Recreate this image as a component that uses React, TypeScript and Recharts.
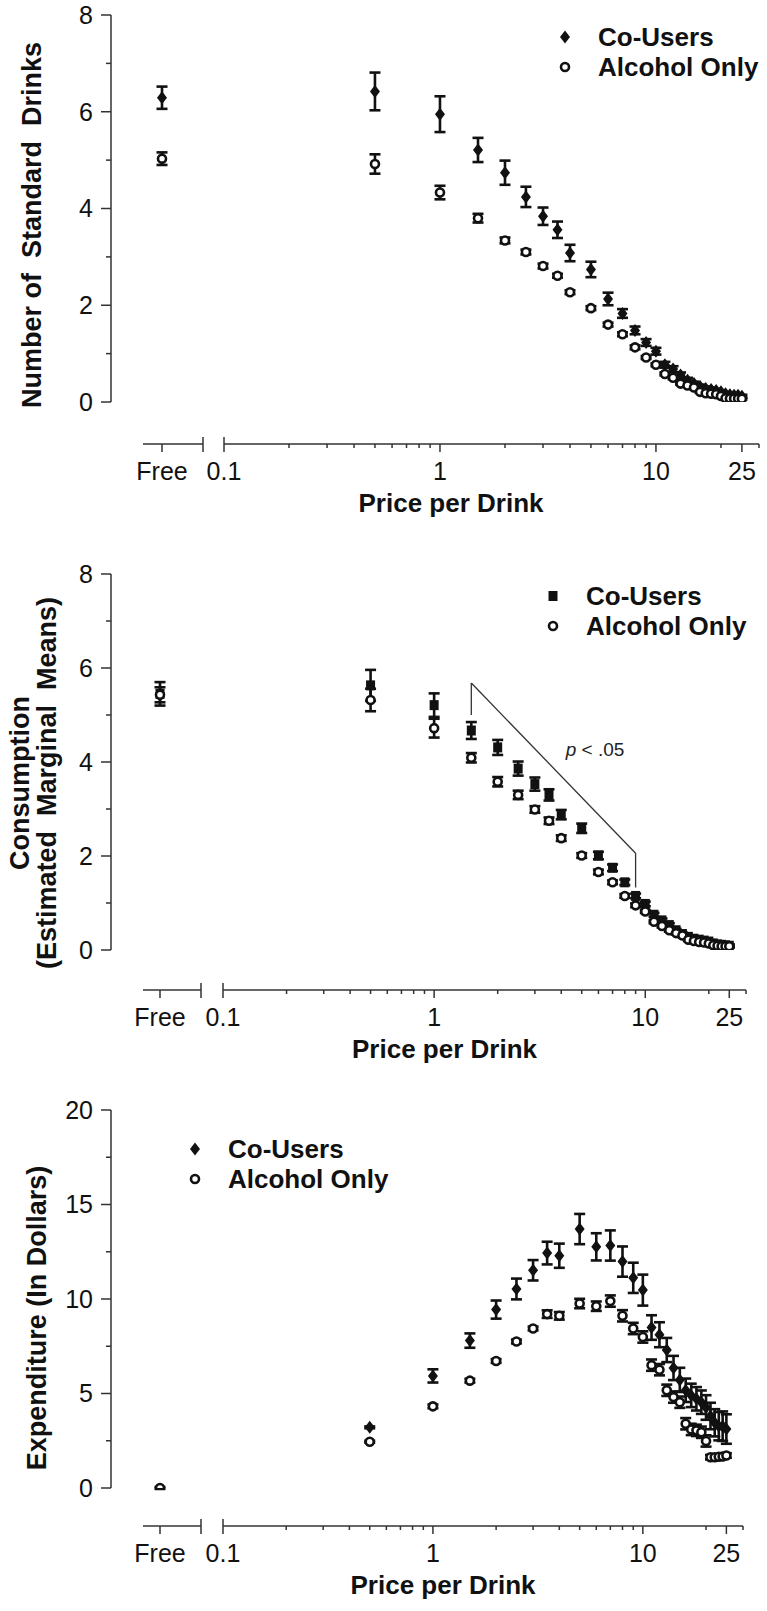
import { ScatterChart, Scatter, XAxis, YAxis, ErrorBar, ReferenceLine, ReferenceDot, Legend } from 'recharts';

const FONT = '"Liberation Sans", Arial, Helvetica, sans-serif';
const INK = '#111';
const AXIS = '#333';
const W = 767;

// prices offered in the purchase task; 0 is the "Free" trial
const PRICES = [0, 0.5, 1, 1.5, 2, 2.5, 3, 3.5, 4, 5, 6, 7, 8, 9, 10, 11, 12, 13, 14, 15, 16, 17, 18, 19, 20, 21, 22, 23, 24, 25];
const SERIES = ['Co-Users', 'Alcohol Only'];
const LOG_TICKS = [0.1, 0.2, 0.3, 0.4, 0.5, 0.6, 0.7, 0.8, 0.9, 1, 2, 3, 4, 5, 6, 7, 8, 9, 10, 20, 25, 30];
const LOG_LABELS = [0.1, 1, 10, 25];

// top: number of standard drinks
const DRINKS_CO = [6.29, 6.42, 5.95, 5.21, 4.74, 4.24, 3.84, 3.56, 3.08, 2.74, 2.13, 1.83, 1.48, 1.23, 1.05, 0.77, 0.68, 0.56, 0.45, 0.38, 0.32, 0.28, 0.26, 0.24, 0.21, 0.17, 0.15, 0.14, 0.14, 0.12];
const DRINKS_CO_SE = [0.23, 0.39, 0.37, 0.25, 0.25, 0.21, 0.18, 0.17, 0.17, 0.16, 0.13, 0.09, 0.08, 0.07, 0.07, 0.06, 0.06, 0.05, 0.05, 0.04, 0.04, 0.04, 0.04, 0.03, 0.03, 0.03, 0.03, 0.03, 0.03, 0.03];
const DRINKS_AO = [5.03, 4.92, 4.33, 3.8, 3.34, 3.1, 2.81, 2.61, 2.27, 1.94, 1.6, 1.4, 1.13, 0.92, 0.77, 0.58, 0.5, 0.38, 0.34, 0.3, 0.21, 0.18, 0.17, 0.16, 0.125, 0.077, 0.074, 0.072, 0.07, 0.069];
const DRINKS_AO_SE = [0.13, 0.2, 0.14, 0.09, 0.06, 0.05, 0.05, 0.04, 0.04, 0.04, 0.04, 0.04, 0.04, 0.03, 0.03, 0.03, 0.03, 0.02, 0.02, 0.02, 0.02, 0.02, 0.02, 0.02, 0.02, 0.02, 0.02, 0.02, 0.02, 0.02];

// middle: estimated marginal means
const CONS_CO = [5.45, 5.63, 5.21, 4.67, 4.31, 3.86, 3.53, 3.3, 2.88, 2.59, 2.01, 1.75, 1.44, 1.15, 0.98, 0.75, 0.63, 0.53, 0.42, 0.34, 0.28, 0.24, 0.22, 0.2, 0.18, 0.14, 0.12, 0.11, 0.1, 0.09];
const CONS_CO_SE = [0.25, 0.33, 0.25, 0.18, 0.16, 0.15, 0.14, 0.12, 0.1, 0.1, 0.08, 0.07, 0.06, 0.05, 0.05, 0.04, 0.04, 0.04, 0.03, 0.03, 0.03, 0.03, 0.03, 0.03, 0.03, 0.03, 0.03, 0.03, 0.03, 0.03];
const CONS_AO = [5.43, 5.32, 4.72, 4.09, 3.58, 3.3, 2.99, 2.75, 2.38, 2.01, 1.66, 1.44, 1.15, 0.95, 0.82, 0.6, 0.51, 0.42, 0.36, 0.31, 0.22, 0.19, 0.17, 0.16, 0.14, 0.1, 0.09, 0.08, 0.08, 0.08];
const CONS_AO_SE = [0.16, 0.24, 0.2, 0.1, 0.1, 0.09, 0.07, 0.07, 0.06, 0.05, 0.05, 0.04, 0.04, 0.04, 0.03, 0.03, 0.03, 0.03, 0.03, 0.03, 0.03, 0.03, 0.03, 0.03, 0.03, 0.03, 0.03, 0.03, 0.03, 0.03];
const BRACKET_PRICE = [1.5, 1.5, 9, 9];
const BRACKET_VALUE = [5.0, 5.68, 2.06, 1.33];

// bottom: expenditure (co-users at Free is hidden behind the circle)
const EXP_CO = [null, 3.21, 5.93, 7.8, 9.44, 10.53, 11.52, 12.43, 12.29, 13.7, 12.76, 12.83, 11.98, 11.12, 10.47, 8.49, 8.11, 7.3, 6.35, 5.72, 5.17, 4.9, 4.72, 4.54, 4.26, 3.81, 3.45, 3.27, 3.27, 3.12];
const EXP_CO_SE = [0, 0.05, 0.35, 0.38, 0.48, 0.55, 0.54, 0.6, 0.64, 0.8, 0.72, 0.8, 0.8, 0.8, 0.82, 0.65, 0.66, 0.64, 0.64, 0.64, 0.62, 0.62, 0.62, 0.62, 0.65, 0.7, 0.72, 0.75, 0.78, 0.78];
const EXP_AO = [0, 2.45, 4.32, 5.68, 6.72, 7.75, 8.44, 9.2, 9.11, 9.76, 9.62, 9.89, 9.11, 8.44, 7.99, 6.5, 6.26, 5.17, 4.81, 4.54, 3.4, 3.1, 3.05, 2.95, 2.49, 1.63, 1.63, 1.65, 1.67, 1.72];
const EXP_AO_SE = [0.05, 0.05, 0.1, 0.1, 0.1, 0.1, 0.1, 0.2, 0.2, 0.25, 0.25, 0.3, 0.3, 0.3, 0.3, 0.3, 0.3, 0.3, 0.3, 0.3, 0.3, 0.3, 0.3, 0.3, 0.3, 0.12, 0.12, 0.12, 0.12, 0.12];

type Pt = { price: number; value: number; se: number };

function rows(values: (number | null)[], se: number[]): Pt[] {
  const out: Pt[] = [];
  PRICES.forEach((price, i) => {
    const v = values[i];
    if (v !== null) out.push({ price, value: v, se: se[i] });
  });
  return out;
}

const Diamond = (p: any) => (
  <path d={`M${p.cx},${p.cy - 6.5}L${p.cx + 5},${p.cy}L${p.cx},${p.cy + 6.5}L${p.cx - 5},${p.cy}Z`} fill={INK} />
);
const Square = (p: any) => <rect x={p.cx - 4.5} y={p.cy - 5} width={9} height={10} fill={INK} />;
const Ring = (p: any) => <circle cx={p.cx} cy={p.cy} r={4} fill="#fff" stroke={INK} strokeWidth={2.6} />;

function makeYTick(labels: number[]) {
  return (p: any) => {
    const v = p.payload.value;
    const axisX = p.x + 18;
    const major = labels.includes(v);
    return (
      <g>
        <line x1={axisX - (major ? 10 : 5)} x2={axisX} y1={p.y} y2={p.y} stroke={AXIS} strokeWidth={1.5} />
        {major && (
          <text x={p.x} y={p.y} dy="0.355em" textAnchor="end" fontSize={25} fontFamily={FONT} fill={INK}>
            {v}
          </text>
        )}
      </g>
    );
  };
}

function LogTick(p: any) {
  const v = p.payload.value;
  const axisY = p.y - 18;
  const label = LOG_LABELS.includes(v);
  const isBreak = v === LOG_TICKS[0];
  return (
    <g>
      <line x1={p.x} x2={p.x} y1={isBreak ? axisY - 7 : axisY} y2={axisY + (label ? 8 : 4)} stroke={AXIS} strokeWidth={1.5} />
      {label && (
        <text x={p.x} y={p.y} dy="0.71em" textAnchor="middle" fontSize={25} fontFamily={FONT} fill={INK}>
          {v}
        </text>
      )}
    </g>
  );
}

function FreeTick(p: any) {
  const axisY = p.y - 18;
  if (p.payload.value !== 0) {
    return <line x1={p.x} x2={p.x} y1={axisY - 7} y2={axisY + 8} stroke={AXIS} strokeWidth={1.5} />;
  }
  return (
    <g>
      <line x1={p.x} x2={p.x} y1={axisY} y2={axisY + 8} stroke={AXIS} strokeWidth={1.5} />
      <text x={p.x} y={p.y} dy="0.71em" textAnchor="middle" fontSize={25} fontFamily={FONT} fill={INK}>
        Free
      </text>
    </g>
  );
}

function LegendBox({ shape }: { shape: (p: any) => any }) {
  return (
    <div style={{ fontFamily: FONT, fontWeight: 700, fontSize: 26, color: INK, whiteSpace: 'nowrap' }}>
      {SERIES.map((name, i) => (
        <div key={name} style={{ display: 'flex', alignItems: 'center', height: 30 }}>
          <svg width={22} height={30}>{i === 0 ? shape({ cx: 11, cy: 15 }) : Ring({ cx: 11, cy: 15 })}</svg>
          <span style={{ marginLeft: 22 }}>{name}</span>
        </div>
      ))}
    </div>
  );
}

type Geo = {
  top: number; height: number; yTop: number; y0: number; axisY: number; yAxisX: number;
  freeLeft: number; freeTick: number; freeRight: number; logLeft: number; logRight: number;
};

type PanelProps = {
  g: Geo;
  yMax: number;
  yTicks: number[];
  yLabels: number[];
  co: Pt[];
  ao: Pt[];
  coShape: (p: any) => any;
  title: string[];
  titleX: number[];
  titleY: number;
  legendX: number;
  legendY: number;
  bracket?: boolean;
};

function Panel({ g, yMax, yTicks, yLabels, co, ao, coShape, title, titleX, titleY, legendX, legendY, bracket }: PanelProps) {
  const H = g.height;
  const xh = 80;
  const bottom = H - g.axisY - xh;
  const pad = g.axisY - g.y0;
  const freeLo = -(g.freeTick - g.freeLeft) / (g.freeRight - g.freeTick);
  const coFree = co.filter((d) => d.price === 0);
  const aoFree = ao.filter((d) => d.price === 0);
  const coLog = co.filter((d) => d.price > 0);
  const aoLog = ao.filter((d) => d.price > 0);
  const axisLine = { stroke: AXIS, strokeWidth: 1.5 };
  const bar = <ErrorBar dataKey="se" direction="y" width={5.5} stroke={INK} strokeWidth={2.6} />;
  const bracketSegs = bracket ? BRACKET_PRICE.slice(1).map((p, i) => [
    { x: BRACKET_PRICE[i], y: BRACKET_VALUE[i] },
    { x: p, y: BRACKET_VALUE[i + 1] },
  ]) : [];

  return (
    <div style={{ position: 'absolute', left: 0, top: g.top, width: W, height: H }}>
      {/* y axis */}
      <div style={{ position: 'absolute', left: 0, top: 0 }}>
        <ScatterChart width={g.yAxisX + 10} height={H} margin={{ top: g.yTop, right: 0, bottom: H - g.y0, left: 0 }}>
          <XAxis type="number" dataKey="price" hide domain={[0, 1]} allowDataOverflow />
          <YAxis
            type="number"
            dataKey="value"
            domain={[0, yMax]}
            allowDataOverflow
            ticks={yTicks}
            interval={0}
            width={g.yAxisX}
            tickLine={false}
            tickSize={10}
            tickMargin={8}
            axisLine={axisLine}
            tick={makeYTick(yLabels)}
            label={{
              content: () => (
                <g>
                  {title.map((t, i) => (
                    <text
                      key={t}
                      x={titleX[i]}
                      y={titleY}
                      transform={`rotate(-90 ${titleX[i]} ${titleY})`}
                      textAnchor="middle"
                      dominantBaseline="central"
                      fontFamily={FONT}
                      fontWeight={700}
                      fontSize={27}
                      fill={INK}
                      style={{ whiteSpace: 'pre' }}
                    >
                      {t}
                    </text>
                  ))}
                </g>
              ),
            }}
          />
          <Scatter data={co.filter((d) => d.price === 0)} shape={() => <g />} isAnimationActive={false} />
        </ScatterChart>
      </div>

      {/* "Free" segment */}
      <div style={{ position: 'absolute', left: 0, top: 0 }}>
        <ScatterChart width={W} height={H} margin={{ top: g.yTop, right: W - g.freeRight, bottom, left: g.freeLeft }}>
          <XAxis
            type="number"
            dataKey="price"
            domain={[freeLo, 1]}
            allowDataOverflow
            ticks={[0, 1]}
            interval={0}
            height={xh}
            tickLine={false}
            tickSize={8}
            tickMargin={10}
            axisLine={axisLine}
            tick={FreeTick}
          />
          <YAxis type="number" dataKey="value" hide domain={[0, yMax]} allowDataOverflow padding={{ top: 0, bottom: pad }} />
          <Scatter data={coFree} shape={coShape} isAnimationActive={false}>{bar}</Scatter>
          <Scatter data={aoFree} shape={Ring} isAnimationActive={false}>{bar}</Scatter>
        </ScatterChart>
      </div>

      {/* log price axis */}
      <div style={{ position: 'absolute', left: 0, top: 0 }}>
        <ScatterChart width={W} height={H} margin={{ top: g.yTop, right: W - g.logRight, bottom, left: g.logLeft }}>
          <XAxis
            type="number"
            dataKey="price"
            scale="log"
            domain={[0.1, 30]}
            allowDataOverflow
            ticks={LOG_TICKS}
            interval={0}
            height={xh}
            tickLine={false}
            tickSize={8}
            tickMargin={10}
            axisLine={axisLine}
            tick={LogTick}
            label={{
              content: () => (
                <text
                  x={(g.freeLeft + g.logRight) / 2}
                  y={g.axisY + 68}
                  textAnchor="middle"
                  fontFamily={FONT}
                  fontWeight={700}
                  fontSize={26}
                  fill={INK}
                >
                  Price per Drink
                </text>
              ),
            }}
          />
          <YAxis type="number" dataKey="value" hide domain={[0, yMax]} allowDataOverflow padding={{ top: 0, bottom: pad }} />
          {bracketSegs.map((seg, i) => (
            <ReferenceLine key={i} segment={seg} stroke="#333" strokeWidth={1.3} ifOverflow="visible" />
          ))}
          {bracket && (
            <ReferenceDot
              x={4.2}
              y={4.27}
              r={0}
              fill="none"
              stroke="none"
              label={{
                content: (p: any) => (
                  <text x={p.viewBox.x} y={p.viewBox.y} dominantBaseline="central" fontFamily={FONT} fontSize={19} fill="#222">
                    <tspan fontStyle="italic">p</tspan>
                    <tspan> &lt; .05</tspan>
                  </text>
                ),
              }}
            />
          )}
          <Scatter data={coLog} shape={coShape} isAnimationActive={false}>{bar}</Scatter>
          <Scatter data={aoLog} shape={Ring} isAnimationActive={false}>{bar}</Scatter>
          <Legend
            layout="vertical"
            align="center"
            verticalAlign="middle"
            wrapperStyle={{ left: legendX - 11, top: legendY - 15, width: 240 }}
            content={() => <LegendBox shape={coShape} />}
          />
        </ScatterChart>
      </div>
    </div>
  );
}

export default function App() {
  return (
    <div style={{ position: 'absolute', left: 0, top: 0, width: W, height: 1611, background: '#fff', overflow: 'hidden' }}>
      <Panel
        g={{ top: 0, height: 540, yTop: 15, y0: 402, axisY: 444, yAxisX: 111, freeLeft: 143, freeTick: 162, freeRight: 203, logLeft: 224, logRight: 759 }}
        yMax={8}
        yTicks={[0, 1, 2, 3, 4, 5, 6, 7, 8]}
        yLabels={[0, 2, 4, 6, 8]}
        co={rows(DRINKS_CO, DRINKS_CO_SE)}
        ao={rows(DRINKS_AO, DRINKS_AO_SE)}
        coShape={Diamond}
        title={['Number of  Standard  Drinks']}
        titleX={[32]}
        titleY={225}
        legendX={565}
        legendY={37}
      />
      <Panel
        g={{ top: 540, height: 530, yTop: 34, y0: 410, axisY: 450, yAxisX: 111, freeLeft: 143, freeTick: 160, freeRight: 201, logLeft: 223, logRight: 746 }}
        yMax={8}
        yTicks={[0, 1, 2, 3, 4, 5, 6, 7, 8]}
        yLabels={[0, 2, 4, 6, 8]}
        co={rows(CONS_CO, CONS_CO_SE)}
        ao={rows(CONS_AO, CONS_AO_SE)}
        coShape={Square}
        title={['Consumption', '(Estimated  Marginal  Means)']}
        titleX={[20, 47]}
        titleY={243}
        legendX={553}
        legendY={56}
        bracket
      />
      <Panel
        g={{ top: 1070, height: 541, yTop: 40, y0: 418, axisY: 456, yAxisX: 111, freeLeft: 143, freeTick: 160, freeRight: 201, logLeft: 223, logRight: 743 }}
        yMax={20}
        yTicks={[0, 2.5, 5, 7.5, 10, 12.5, 15, 17.5, 20]}
        yLabels={[0, 5, 10, 15, 20]}
        co={rows(EXP_CO, EXP_CO_SE)}
        ao={rows(EXP_AO, EXP_AO_SE)}
        coShape={Diamond}
        title={['Expenditure (In Dollars)']}
        titleX={[37]}
        titleY={248}
        legendX={195}
        legendY={79}
      />
    </div>
  );
}
